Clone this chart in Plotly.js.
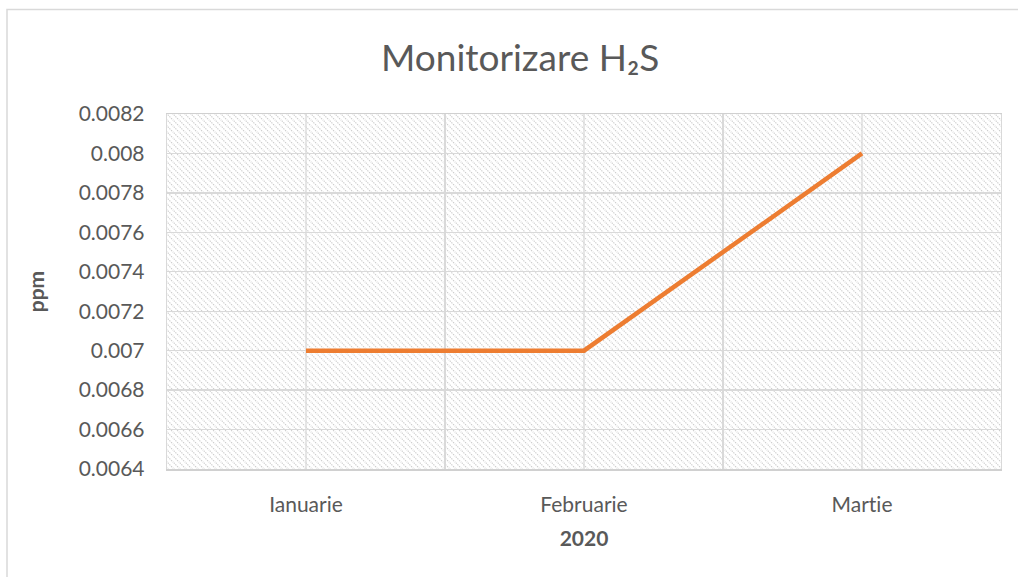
<!DOCTYPE html>
<html>
<head>
<meta charset="utf-8">
<script src="https://cdn.plot.ly/plotly-3.0.1.min.js"></script>
<style>html,body{margin:0;padding:0;background:#fff;} #chart{width:1018px;height:577px;} #chart text{font-variant-ligatures:none;font-feature-settings:"liga" 0;}</style>
</head>
<body>
<div id="chart"></div>
<script>
// Data
const months = ["Ianuarie", "Februarie", "Martie"];
const h2sPpm = [0.007, 0.007, 0.008];
const yTickValues = [0.0064, 0.0066, 0.0068, 0.007, 0.0072, 0.0074, 0.0076, 0.0078, 0.008, 0.0082];
const yTickLabels = ["0.0064", "0.0066", "0.0068", "0.007", "0.0072", "0.0074", "0.0076", "0.0078", "0.008", "0.0082"];
const chartTitle = "Monitorizare H\u2082S";
const xTitle = "2020";
const yTitle = "ppm";

const FONT = "Lato, 'Open Sans', sans-serif";
const TXT = "#595959";
const GRID = "#d9d9d9";

// hatch pattern background image for the plot area
const pw = 834, ph = 355;
const svg = `<svg xmlns="http://www.w3.org/2000/svg" width="${pw}" height="${ph}" viewBox="0 0 ${pw} ${ph}" preserveAspectRatio="none">` +
  `<defs><pattern id="p" width="6" height="6" patternUnits="userSpaceOnUse">` +
  `<path d="M-1,-1 L7,7 M-4,2 L2,8 M2,-4 L8,2" stroke="#cccccc" stroke-width="1.1" stroke-dasharray="1.4,1"/>` +
  `</pattern></defs><rect width="100%" height="100%" fill="#ffffff"/><rect width="100%" height="100%" fill="url(#p)"/></svg>`;
const bgSrc = "data:image/svg+xml;charset=utf-8," + encodeURIComponent(svg);

const trace = {
  x: months,
  y: h2sPpm,
  type: "scatter",
  mode: "lines",
  line: {color: "#ED7D31", width: 4.5},
  hoverinfo: "x+y"
};

const shapes = months.map(m => ({
  type: "line", xref: "x", yref: "paper", x0: m, x1: m, y0: 0, y1: 1,
  line: {color: GRID, width: 1.3}, layer: "below"
}));
// outer chart-area border
shapes.push({
  type: "rect", xref: "paper", yref: "paper",
  x0: (7 - 167) / 834, x1: (1040 - 167) / 834,
  y0: -0.35, y1: 1 + (114 - 9.5) / 355,
  line: {color: "#d9d9d9", width: 1.5}, fillcolor: "rgba(0,0,0,0)", layer: "below"
});

const layout = {
  width: 1018, height: 577,
  margin: {l: 167, r: 17, t: 114, b: 108},
  paper_bgcolor: "#ffffff",
  plot_bgcolor: "#ffffff",
  showlegend: false,
  font: {family: FONT, color: TXT, size: 21},
  title: {
    text: chartTitle,
    font: {family: FONT, size: 37, color: TXT},
    xref: "container", x: 0.511, xanchor: "center",
    yref: "container", y: 1 - 58 / 577, yanchor: "middle"
  },
  xaxis: {
    type: "category",
    range: [-0.5, 2.5],
    tickson: "boundaries",
    showgrid: true, gridcolor: GRID, gridwidth: 1.3,
    showline: true, linecolor: "#d0d0d0", linewidth: 1.5, mirror: true,
    ticks: "", ticklabelstandoff: 16,
    tickfont: {family: FONT, size: 21, color: TXT},
    title: {text: xTitle, font: {family: FONT, size: 21, color: TXT, weight: "bold"}, standoff: 16},
    fixedrange: true
  },
  yaxis: {
    range: [0.0064, 0.0082],
    tickmode: "array", tickvals: yTickValues, ticktext: yTickLabels,
    showgrid: true, gridcolor: GRID, gridwidth: 1.3,
    zeroline: false,
    showline: true, linecolor: GRID, linewidth: 1.3, mirror: true,
    ticks: "", ticklabelstandoff: 17,
    tickfont: {family: FONT, size: 21, color: TXT},
    title: {text: yTitle, font: {family: FONT, size: 21, color: TXT, weight: "bold"}, standoff: 28},
    fixedrange: true
  },
  images: [{
    source: bgSrc, xref: "paper", yref: "paper", x: 0, y: 1, sizex: 1, sizey: 1,
    xanchor: "left", yanchor: "top", sizing: "stretch", layer: "below"
  }],
  shapes: shapes
};

Plotly.newPlot("chart", [trace], layout, {displayModeBar: false, staticPlot: true});
</script>
</body>
</html>
